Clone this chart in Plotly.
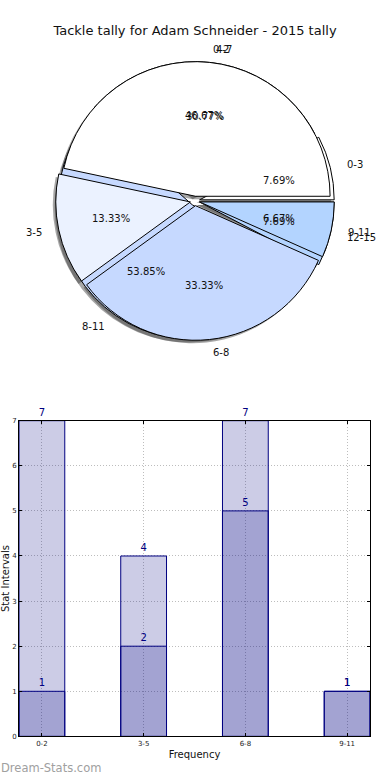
import math
import plotly.graph_objects as go

# ---- data ----
pie_a_labels = ["0-2", "3-5", "6-8", "9-11"]
pie_a_values = [7, 2, 5, 1]
pie_b_labels = ["0-3", "4-7", "8-11", "12-15"]
pie_b_values = [1, 4, 7, 1]
pie_colors = ["#FFFFFF", "#EBF2FF", "#C6D9FF", "#B3D4FF"]

bar_categories = ["0-2", "3-5", "6-8", "9-11"]
bar_light = [7, 4, 7, 1]
bar_dark = [1, 2, 5, 1]
y_ticks = [0, 1, 2, 3, 4, 5, 6, 7]

W, H = 390, 780
FONT = "DejaVu Sans"
TXT = "#111111"

# pie geometry (pixels)
cx, cy, R = 195, 199, 136
PULL = 0.035

def dom(cx, cy, half, dx=0, dy=0):
    return dict(x=[(cx - half + dx) / W, (cx + half + dx) / W],
                y=[1 - (cy + half + dy) / H, 1 - (cy - half + dy) / H])

def start_rot(vals):
    # first slice begins at 3 o'clock and runs counterclockwise (matplotlib style)
    return 90 - 360 * vals[0] / sum(vals)

half = R * (1 + PULL)
main_dom = dom(cx, cy, half)
shadow_dom = dom(cx, cy, half, dx=-3, dy=3)

common = dict(sort=False, direction="counterclockwise", textinfo="none",
              showlegend=False, hoverinfo="skip", pull=[PULL] * 4)

fig = go.Figure()

# shadows
for vals in (pie_b_values, pie_a_values):
    fig.add_trace(go.Pie(values=vals, labels=pie_a_labels, domain=shadow_dom,
                         rotation=start_rot(vals),
                         marker=dict(colors=["rgba(60,60,60,0.45)"] * 4,
                                     line=dict(width=0)), **common))
# pie B (below) and pie A (top)
for vals, labs in ((pie_b_values, pie_b_labels), (pie_a_values, pie_a_labels)):
    fig.add_trace(go.Pie(values=vals, labels=labs, domain=main_dom,
                         rotation=start_rot(vals),
                         marker=dict(colors=pie_colors, line=dict(color="black", width=1)),
                         **common))

# pie texts: percentages at 0.6 R, labels at 1.1 R (matplotlib pie layout)
annotations = []
for vals, labs in ((pie_a_values, pie_a_labels), (pie_b_values, pie_b_labels)):
    total = sum(vals)
    start = 0.0
    for v, lab in zip(vals, labs):
        mid = math.radians(start + 180.0 * v / total)
        start += 360.0 * v / total
        c, s = math.cos(mid), math.sin(mid)
        rp = (0.6 + PULL) * R
        annotations.append(dict(text=f"{100 * v / total:.2f}%", xref="paper", yref="paper",
                                x=(cx + rp * c) / W, y=1 - (cy - rp * s) / H,
                                xanchor="center", yanchor="middle", showarrow=False,
                                font=dict(family=FONT, size=10, color=TXT)))
        rl = (1.1 + PULL) * R
        annotations.append(dict(text=lab, xref="paper", yref="paper",
                                x=(cx + rl * c) / W, y=1 - (cy - rl * s) / H,
                                xanchor="left" if c > 0 else "right", yanchor="middle",
                                showarrow=False,
                                font=dict(family=FONT, size=10, color=TXT)))

annotations.append(dict(text="Dream-Stats.com", xref="paper", yref="paper",
                        x=0, y=1 - 772 / H, xanchor="left", yanchor="middle",
                        showarrow=False, borderpad=0,
                        font=dict(family=FONT, size=11.5, color="#a0a0a0")))

# ---- bar chart ----
x_idx = list(range(len(bar_categories)))
bar_style = dict(width=0.45, marker=dict(color="rgba(0,0,128,0.2)",
                                         line=dict(color="#000080", width=1)),
                 textposition="outside", cliponaxis=False,
                 textfont=dict(family=FONT, size=10, color="#000080"),
                 showlegend=False, hoverinfo="skip", xaxis="x", yaxis="y")
fig.add_trace(go.Bar(x=x_idx, y=bar_light, text=[str(v) for v in bar_light], **bar_style))
fig.add_trace(go.Bar(x=x_idx, y=bar_dark, text=[str(v) for v in bar_dark], **bar_style))

axis_common = dict(showline=True, linecolor="black", linewidth=1, mirror="ticks",
                   showgrid=True, gridcolor="#bdbdbd", griddash="1px,2px", gridwidth=1,
                   ticks="inside", ticklen=3, tickcolor="black",
                   tickfont=dict(family=FONT, size=7, color="#222"),
                   zeroline=False, layer="above traces")

fig.update_layout(
    width=W, height=H,
    margin=dict(l=0, r=0, t=0, b=0),
    paper_bgcolor="white", plot_bgcolor="white",
    barmode="overlay",
    font=dict(family=FONT, color=TXT),
    title=dict(text="Tackle tally for Adam Schneider - 2015 tally",
               x=0.5, xanchor="center", y=1 - 30 / H, yanchor="middle",
               font=dict(family=FONT, size=13, color=TXT)),
    xaxis=dict(domain=[19 / W, 370 / W], range=[-0.225, 3.225],
               tickmode="array", tickvals=x_idx, ticktext=bar_categories,
               title=dict(text="Frequency", font=dict(family=FONT, size=10), standoff=4),
               **axis_common),
    yaxis=dict(domain=[1 - 740 / H, 1 - 421 / H], range=[0, 7],
               tickmode="array", tickvals=y_ticks,
               title=dict(text="Stat Intervals", font=dict(family=FONT, size=10), standoff=0),
               **axis_common),
    annotations=annotations,
)

fig.write_html("out.html", config={"displayModeBar": False},
               post_script="document.body.style.margin='0';")
